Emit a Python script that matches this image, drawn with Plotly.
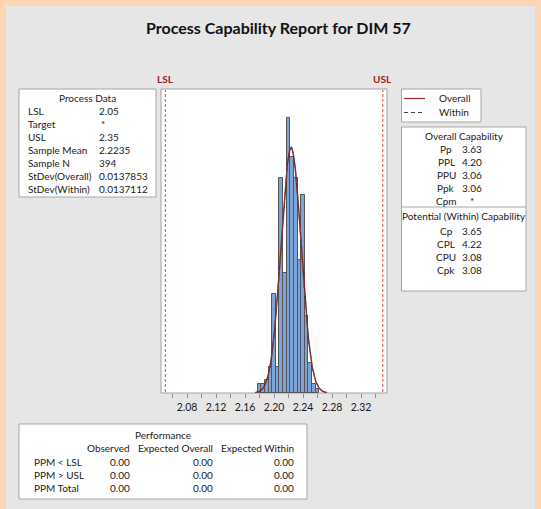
import numpy as np
import plotly.graph_objects as go

W, H = 541, 509

# ---------------- data ----------------
bin_mids = [2.180, 2.185, 2.190, 2.195, 2.200, 2.205, 2.210, 2.215, 2.220,
            2.225, 2.230, 2.235, 2.240, 2.245, 2.250, 2.255, 2.260]
counts = [2, 2, 3, 6, 23, 6, 50, 28, 64, 55, 50, 31, 46, 18, 7, 2, 1]
bin_width = 0.005
lsl, usl = 2.05, 2.35
mean = 2.2235
n_obs = 394
sd_overall = 0.0137853
sd_within = 0.0137112

tick_vals = [2.06, 2.08, 2.10, 2.12, 2.14, 2.16, 2.18, 2.20, 2.22, 2.24,
             2.26, 2.28, 2.30, 2.32, 2.34]
tick_text = ["", "2.08", "", "2.12", "", "2.16", "", "2.20", "", "2.24",
             "", "2.28", "", "2.32", ""]

title = "Process Capability Report for DIM 57"

process_labels = ["LSL", "Target", "USL", "Sample Mean", "Sample N",
                  "StDev(Overall)", "StDev(Within)"]
process_values = ["2.05", "*", "2.35", "2.2235", "394", "0.0137853", "0.0137112"]

overall_labels = ["Pp", "PPL", "PPU", "Ppk", "Cpm"]
overall_values = ["3.63", "4.20", "3.06", "3.06", "*"]
within_labels = ["Cp", "CPL", "CPU", "Cpk"]
within_values = ["3.65", "4.22", "3.08", "3.08"]

perf_rows = ["PPM < LSL", "PPM > USL", "PPM Total"]
perf_cols = ["Observed", "Expected Overall", "Expected Within"]
perf_observed = ["0.00", "0.00", "0.00"]
perf_exp_overall = ["0.00", "0.00", "0.00"]
perf_exp_within = ["0.00", "0.00", "0.00"]

# ---------------- helpers ----------------
FONT = "Lato"
TXT = "#1a1a1a"
BOXLINE = "#a6a6a6"
DARKRED = "#9b2226"
ROW = 13.0


def px(x):
    return x / W


def py(y):
    return 1 - y / H


annotations = []
shapes = []


def text(x, y, s, anchor="left", size=10, color=TXT, bold=False):
    annotations.append(dict(
        x=px(x), y=py(y), xref="paper", yref="paper", text=s,
        showarrow=False, xanchor=anchor, yanchor="middle",
        font=dict(family=FONT, size=size, color=color,
                  weight="bold" if bold else "normal"),
    ))


def rect(x0, y0, x1, y1, fill="white", line=BOXLINE, width=1):
    shapes.append(dict(
        type="rect", xref="paper", yref="paper", layer="below",
        x0=px(x0), x1=px(x1), y0=py(y1), y1=py(y0),
        fillcolor=fill, line=dict(color=line, width=width),
    ))


def hline(x0, x1, y, color, dash="solid", width=1):
    shapes.append(dict(
        type="line", xref="paper", yref="paper", layer="below",
        x0=px(x0), x1=px(x1), y0=py(y), y1=py(y),
        line=dict(color=color, dash=dash, width=width),
    ))


# background panel
rect(6, 6, 535, 512, fill="#e6e6e6", line="#e6e6e6", width=0)

# plot area frame
PL, PR, PT, PB = 161, 387, 89, 393
rect(PL, PT, PR, PB, fill="white", line="#a0a0a0")

# Process data box
rect(19, 89, 156, 197)
text(87.5, 98, "Process Data", anchor="center")
for i, (lab, val) in enumerate(zip(process_labels, process_values)):
    yy = 111 + i * ROW
    text(26, yy, lab)
    if val == "*":
        text(99, yy, val)
    else:
        text(96.5, yy, val)

# Legend box
rect(401.5, 89, 481, 122)
hline(404, 425, 98.5, DARKRED, width=1.2)
text(436.5, 98, "Overall")
hline(404, 425, 112.5, "#444444", dash="4px,3px", width=1)
text(436.5, 112, "Within")

# Capability box
rect(401.5, 127, 526, 291)
hline(401.5, 526, 207, BOXLINE)
text(464, 136, "Overall Capability", anchor="center")
for i, (lab, val) in enumerate(zip(overall_labels, overall_values)):
    yy = 149 + i * ROW
    text(446, yy, lab, anchor="center")
    text(471.5, yy, val, anchor="center")
text(463.5, 215.5, "Potential (Within) Capability", anchor="center")
for i, (lab, val) in enumerate(zip(within_labels, within_values)):
    yy = 230.5 + i * ROW
    text(446, yy, lab, anchor="center")
    text(471.5, yy, val, anchor="center")

# Performance box
rect(19, 424, 307, 499)
text(163, 435, "Performance", anchor="center")
col_right = [131.5, 215, 296]
for cx, c in zip(col_right, perf_cols):
    text(cx, 447.5, c, anchor="right")
for i, lab in enumerate(perf_rows):
    yy = 462 + i * ROW
    text(31.5, yy, lab)
    for cx, col in zip(col_right, [perf_observed, perf_exp_overall, perf_exp_within]):
        text(cx, yy, col[i], anchor="right")

# LSL / USL labels
text(165.5, 79, "LSL", anchor="center", size=10, color=DARKRED, bold=True)
text(382.5, 79, "USL", anchor="center", size=10, color=DARKRED, bold=True)

# title
text(278, 27.5, title, anchor="center", size=16, color="#111111", bold=True)

# spec lines (data x)
for v in (lsl, usl):
    shapes.append(dict(
        type="line", xref="x", yref="paper", layer="below",
        x0=v, x1=v, y0=py(PB - 1), y1=py(PT + 1),
        line=dict(color="#e8393a", dash="3px,2px", width=1),
    ))

# ---------------- traces ----------------
fig = go.Figure()
fig.add_trace(go.Bar(
    x=bin_mids, y=counts, width=bin_width,
    marker=dict(color="#7ba4d8", line=dict(color="#555555", width=1)),
    hoverinfo="x+y",
))


def normal_curve(sd):
    xs = np.linspace(mean - 3.6 * sd, mean + 3.6 * sd, 300)
    ys = n_obs * bin_width / (sd * np.sqrt(2 * np.pi)) * np.exp(-0.5 * ((xs - mean) / sd) ** 2)
    return xs, ys


xo, yo = normal_curve(sd_overall)
fig.add_trace(go.Scatter(x=xo, y=yo, mode="lines",
                         line=dict(color="#8b1a1e", width=1.4), hoverinfo="skip"))
xw, yw = normal_curve(sd_within)
fig.add_trace(go.Scatter(x=xw, y=yw, mode="lines",
                         line=dict(color="#555555", width=1, dash="4px,3px"),
                         hoverinfo="skip"))

# x range from pixel geometry: lsl at 165.3 px, 725 px/unit
ppu = 725.0
x_lo = lsl - (165.3 - PL) / ppu
x_hi = lsl + (PR - 165.3) / ppu
y_hi = (PB - PT) / 4.3

fig.update_layout(
    width=W, height=H, autosize=False,
    margin=dict(l=0, r=0, t=0, b=0, pad=0),
    paper_bgcolor="#fcd6b4", plot_bgcolor="rgba(0,0,0,0)",
    showlegend=False, bargap=0,
    shapes=shapes, annotations=annotations,
    font=dict(family=FONT, size=10, color=TXT),
    xaxis=dict(domain=[px(PL), px(PR)], range=[x_lo, x_hi],
               tickvals=tick_vals, ticktext=tick_text,
               ticks="outside", ticklen=4, tickcolor="#8c8c8c", tickwidth=1,
               showgrid=False, zeroline=False, showline=False,
               tickfont=dict(family=FONT, size=10.5, color=TXT)),
    yaxis=dict(domain=[py(PB), py(PT)], range=[0, y_hi],
               visible=False, showgrid=False, zeroline=False),
)

fig.write_html("out.html",
               config={"displayModeBar": False},
               post_script="document.body.style.margin='0';"
                           "document.body.style.overflow='hidden';")
